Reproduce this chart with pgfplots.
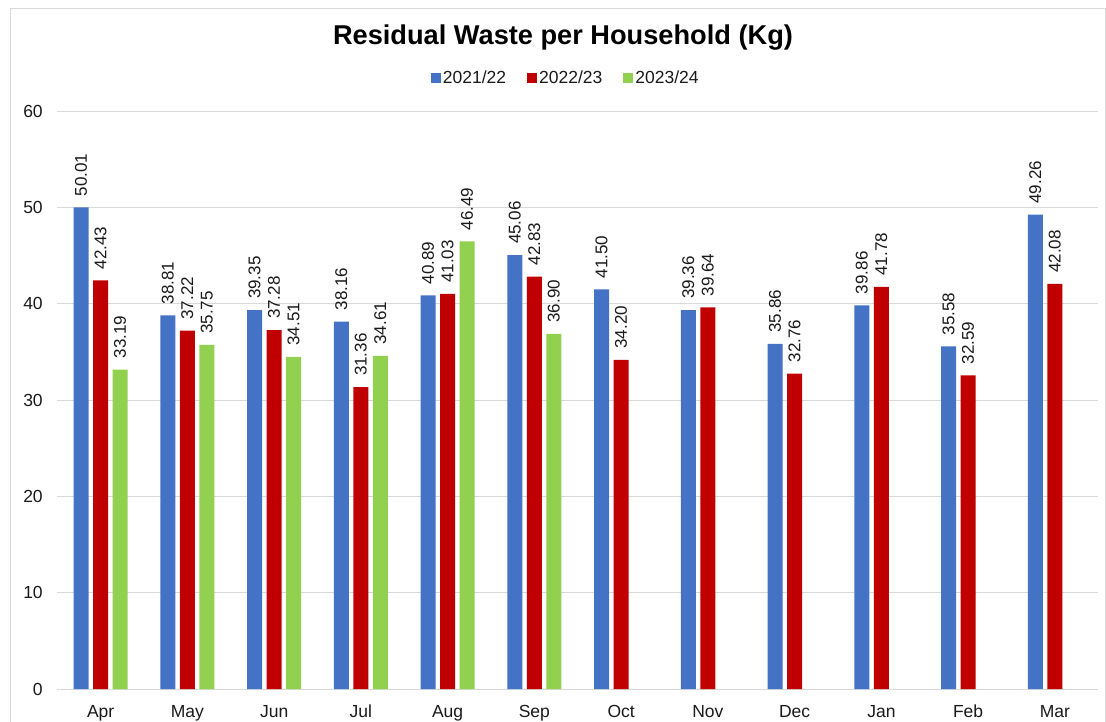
\documentclass[border=0pt]{standalone}
\usepackage{pgfplots}
\pgfplotsset{compat=1.18}
\usepackage{fontspec}
\setmainfont{Liberation Sans}
\definecolor{cblue}{HTML}{4472C4}
\definecolor{cred}{HTML}{C00000}
\definecolor{cgreen}{HTML}{92D050}
\definecolor{cgrid}{HTML}{D9D9D9}
\definecolor{ctext}{HTML}{1A1A1A}
\begin{document}
\begin{tikzpicture}[x=1pt,y=1pt]
\useasboundingbox (0,0) rectangle (1106,722);
\fill[white] (0,0) rectangle (1106,722);
\draw[cgrid, line width=1pt] (10.5,-2) rectangle (1105.5,713.5);
\node[font=\fontsize{27.2}{31}\selectfont\bfseries, text=black] at (563,684) {Residual Waste per Household (Kg)};
\begin{axis}[
  at={(66,34)}, anchor=south west,
  scale only axis, width=1041pt, height=578pt,
  xmin=-0.5, xmax=11.5, ymin=0, ymax=60,
  ybar, bar width=15pt,
  ytick={0,10,...,60},
  xtick={0,...,11},
  xticklabels={Apr,May,Jun,Jul,Aug,Sep,Oct,Nov,Dec,Jan,Feb,Mar},
  ymajorgrids, grid style={cgrid, line width=1pt},
  axis x line*=bottom,
  x axis line style={draw=cgrid, line width=1pt},
  axis y line*=left,
  y axis line style={draw=none},
  major tick length=0pt,
  tick style={draw=none},
  /pgf/number format/assume math mode=true,
  ticklabel style={font=\fontsize{17.5}{20}\selectfont, text=ctext},
  yticklabel style={xshift=-11pt},
  xticklabel style={anchor=base, yshift=-28pt},
  nodes near coords={\pgfmathprintnumber[fixed,fixed zerofill,precision=2,assume math mode=true]{\pgfplotspointmeta}},
  every node near coord/.append style={rotate=90, anchor=west, font=\fontsize{17}{20}\selectfont, text=ctext, inner sep=0pt, xshift=11pt},
  legend columns=3,
  legend style={at={(0.5,1)}, anchor=center, yshift=33pt, xshift=-12pt, draw=none, fill=none,
    font=\fontsize{17.5}{20}\selectfont, text=ctext, inner xsep=1pt,
    /tikz/every even column/.style={column sep=19pt}},
  legend image code/.code={\fill[#1] (0pt,-5pt) rectangle (10pt,5pt);},
]
\addplot[fill=cblue, draw=none, bar shift=-19.5pt] coordinates {
(0,50.01) (1,38.81) (2,39.35) (3,38.16) (4,40.89) (5,45.06)
(6,41.50) (7,39.36) (8,35.86) (9,39.86) (10,35.58) (11,49.26)};
\addplot[fill=cred, draw=none, bar shift=0pt] coordinates {
(0,42.43) (1,37.22) (2,37.28) (3,31.36) (4,41.03) (5,42.83)
(6,34.20) (7,39.64) (8,32.76) (9,41.78) (10,32.59) (11,42.08)};
\addplot[fill=cgreen, draw=none, bar shift=19.5pt] coordinates {
(0,33.19) (1,35.75) (2,34.51) (3,34.61) (4,46.49) (5,36.90)};
\legend{2021/22,2022/23,2023/24}
\end{axis}
\end{tikzpicture}
\end{document}
